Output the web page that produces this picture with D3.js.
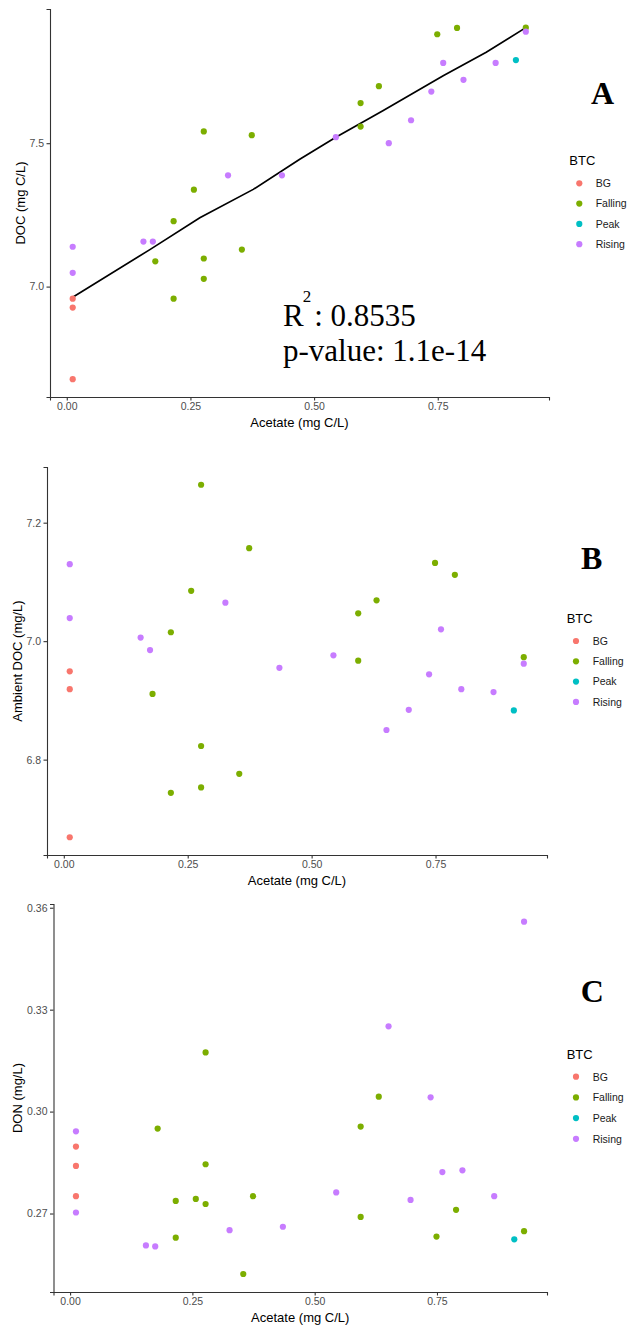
<!DOCTYPE html>
<html>
<head>
<meta charset="utf-8">
<script src="https://cdn.jsdelivr.net/npm/d3@7"></script>
<style>
  html, body { margin: 0; padding: 0; background: #fff; }
  svg { display: block; }
</style>
</head>
<body>
<svg id="chart" width="628" height="1328"></svg>
<script>
// ---------------- DATA ----------------
const categories = ["BG", "Falling", "Peak", "Rising"];
const btc = ["BG","BG","BG","Rising","Rising","Rising","Rising","Falling","Falling","Falling",
             "Falling","Falling","Falling","Falling","Rising","Falling","Falling","Rising","Rising","Falling",
             "Falling","Falling","Rising","Rising","Rising","Falling","Rising","Falling","Rising","Rising",
             "Peak","Falling","Rising"];
const acetate = [0.012,0.012,0.012,0.012,0.012,0.155,0.174,0.179,0.216,0.216,
                 0.257,0.277,0.277,0.277,0.326,0.354,0.374,0.435,0.544,0.594,
                 0.594,0.631,0.651,0.696,0.737,0.749,0.761,0.789,0.802,0.867,
                 0.908,0.928,0.928];
const doc = [6.958,6.927,6.677,7.139,7.048,7.157,7.157,7.088,7.228,6.958,
             7.338,7.541,7.098,7.027,7.388,7.129,7.528,7.388,7.521,7.640,
             7.558,7.699,7.500,7.580,7.680,7.880,7.780,7.902,7.721,7.780,
             7.790,7.903,7.889];
const ambientDoc = [6.949,6.919,6.669,7.130,7.039,7.006,6.985,6.911,7.015,6.744,
                    7.085,7.264,6.823,6.753,7.065,6.776,7.157,6.955,6.976,7.047,
                    6.967,7.069,6.850,6.884,6.944,7.132,7.020,7.112,6.919,6.914,
                    6.883,6.973,6.962];
const don = [0.2897,0.2840,0.2751,0.2942,0.2703,0.2606,0.2603,0.2950,0.2737,0.2629,
             0.2743,0.3174,0.2845,0.2728,0.2651,0.2522,0.2751,0.2661,0.2762,0.2956,
             0.2690,0.3044,0.3251,0.2740,0.3042,0.2632,0.2822,0.2711,0.2827,0.2751,
             0.2624,0.2648,0.3559];
// fitted regression line (panel A)
const fitX = [0.012,0.168,0.269,0.377,0.471,0.544,0.639,0.761,0.848,0.928];
const fitY = [6.963,7.129,7.240,7.339,7.444,7.521,7.613,7.735,7.817,7.903];
const xTicks = [0.00,0.25,0.50,0.75];
const yTicksA = [7.0,7.5];
const yTicksB = [6.8,7.0,7.2];
const yTicksC = [0.27,0.30,0.33,0.36];
const statLine1 = ": 0.8535";
const statLine2 = "p-value: 1.1e-14";

// ---------------- STYLE ----------------
const colors = ["#F8766D","#7CAE00","#00BFC4","#C77CFF"];
const color = d3.scaleOrdinal().domain(categories).range(colors);
const sans = "'Liberation Sans', Arial, sans-serif";
const serif = "'Liberation Serif', 'Times New Roman', serif";

const svg = d3.select("#chart");

const panels = [
  { y: doc, ticks: yTicksA, fmt: ".1f", yLabel: "DOC (mg C/L)", letter: "A",
    left: 50, right: 549, top: 9, bottom: 397, yDom: [6.615, 7.968],
    yLabX: 25, letX: 602.5, letY: 104, legX: 569.3, legY: 165, keyX: 579.3, keyY0: 183.3, keyStep: 20.3, labX: 595.7 },
  { y: ambientDoc, ticks: yTicksB, fmt: ".1f", yLabel: "Ambient DOC (mg/L)", letter: "B",
    left: 47, right: 547, top: 467, bottom: 855, yDom: [6.639, 7.294],
    yLabX: 21.7, letX: 591.7, letY: 569, legX: 566.7, legY: 623, keyX: 576, keyY0: 641, keyStep: 20.3, labX: 592.7 },
  { y: don, ticks: yTicksC, fmt: ".2f", yLabel: "DON (mg/L)", letter: "C",
    left: 53.5, right: 547, top: 904, bottom: 1292, yDom: [0.2469, 0.3611],
    yLabX: 21.7, letX: 592.3, letY: 1001.5, legX: 566.7, legY: 1059, keyX: 576, keyY0: 1076.7, keyStep: 20.7, labX: 592.7 }
];

panels.forEach((p, pi) => {
  const g = svg.append("g");
  const x = d3.scaleLinear().domain([-0.0339, 0.9749]).range([p.left, p.right]);
  const y = d3.scaleLinear().domain(p.yDom).range([p.bottom, p.top]);

  // axes
  const xAxis = g.append("g").attr("transform", `translate(0,${p.bottom})`)
    .call(d3.axisBottom(x).tickValues(xTicks).tickFormat(d3.format(".2f")).tickSizeOuter(0).tickSize(3.5).tickPadding(2.5));
  const yAxis = g.append("g").attr("transform", `translate(${p.left},0)`)
    .call(d3.axisLeft(y).tickValues(p.ticks).tickFormat(d3.format(p.fmt)).tickSizeOuter(0).tickSize(3.5).tickPadding(2.5));
  [xAxis, yAxis].forEach(a => {
    a.select(".domain").attr("stroke", "#333").attr("stroke-width", 1.1);
    a.selectAll(".tick line").attr("stroke", "#333").attr("stroke-width", 1.1);
    a.selectAll(".tick text").attr("fill", "#4D4D4D").style("font-family", sans).style("font-size", "10.5px");
  });

  // axis titles
  g.append("text").attr("x", (p.left + p.right) / 2).attr("y", p.bottom + 30)
    .attr("text-anchor", "middle").style("font-family", sans).style("font-size", "13px").attr("fill", "#000")
    .text("Acetate (mg C/L)");
  g.append("text").attr("transform", `translate(${p.yLabX},${(p.top + p.bottom) / 2}) rotate(-90)`)
    .attr("text-anchor", "middle").style("font-family", sans).style("font-size", "13px").attr("fill", "#000")
    .text(p.yLabel);

  // regression line in A
  if (pi === 0) {
    const line = d3.line().x(d => x(d[0])).y(d => y(d[1]));
    g.append("path").datum(d3.zip(fitX, fitY)).attr("d", line)
      .attr("fill", "none").attr("stroke", "#000").attr("stroke-width", 1.7);
  }

  // points
  const pts = d3.range(acetate.length).map(i => ({ x: acetate[i], y: p.y[i], c: btc[i] }));
  g.append("g").selectAll("circle").data(pts).join("circle")
    .attr("cx", d => x(d.x)).attr("cy", d => y(d.y)).attr("r", 3.1)
    .attr("fill", d => color(d.c));

  // stats text in A
  if (pi === 0) {
    const t1 = g.append("text").attr("x", 283).attr("y", 326)
      .style("font-family", serif).style("font-size", "31px").attr("fill", "#000");
    t1.append("tspan").text("R");
    t1.append("tspan").attr("dy", -24.5).attr("dx", -1).style("font-size", "17px").text("2");
    t1.append("tspan").attr("dy", 24.5).attr("dx", 3).text(statLine1);
    g.append("text").attr("x", 283).attr("y", 361)
      .style("font-family", serif).style("font-size", "31px").attr("fill", "#000").text(statLine2);
  }

  // panel letter
  g.append("text").attr("x", p.letX).attr("y", p.letY).attr("text-anchor", "middle")
    .style("font-family", serif).style("font-weight", "bold").style("font-size", "32px").text(p.letter);

  // legend
  g.append("text").attr("x", p.legX).attr("y", p.legY)
    .style("font-family", sans).style("font-size", "13px").attr("fill", "#000").text("BTC");
  categories.forEach((c, i) => {
    const ky = p.keyY0 + i * p.keyStep;
    g.append("circle").attr("cx", p.keyX).attr("cy", ky).attr("r", 3.1).attr("fill", color(c));
    g.append("text").attr("x", p.labX).attr("y", ky + 3.8)
      .style("font-family", sans).style("font-size", "10.5px").attr("fill", "#1a1a1a").text(c);
  });
});
</script>
</body>
</html>
